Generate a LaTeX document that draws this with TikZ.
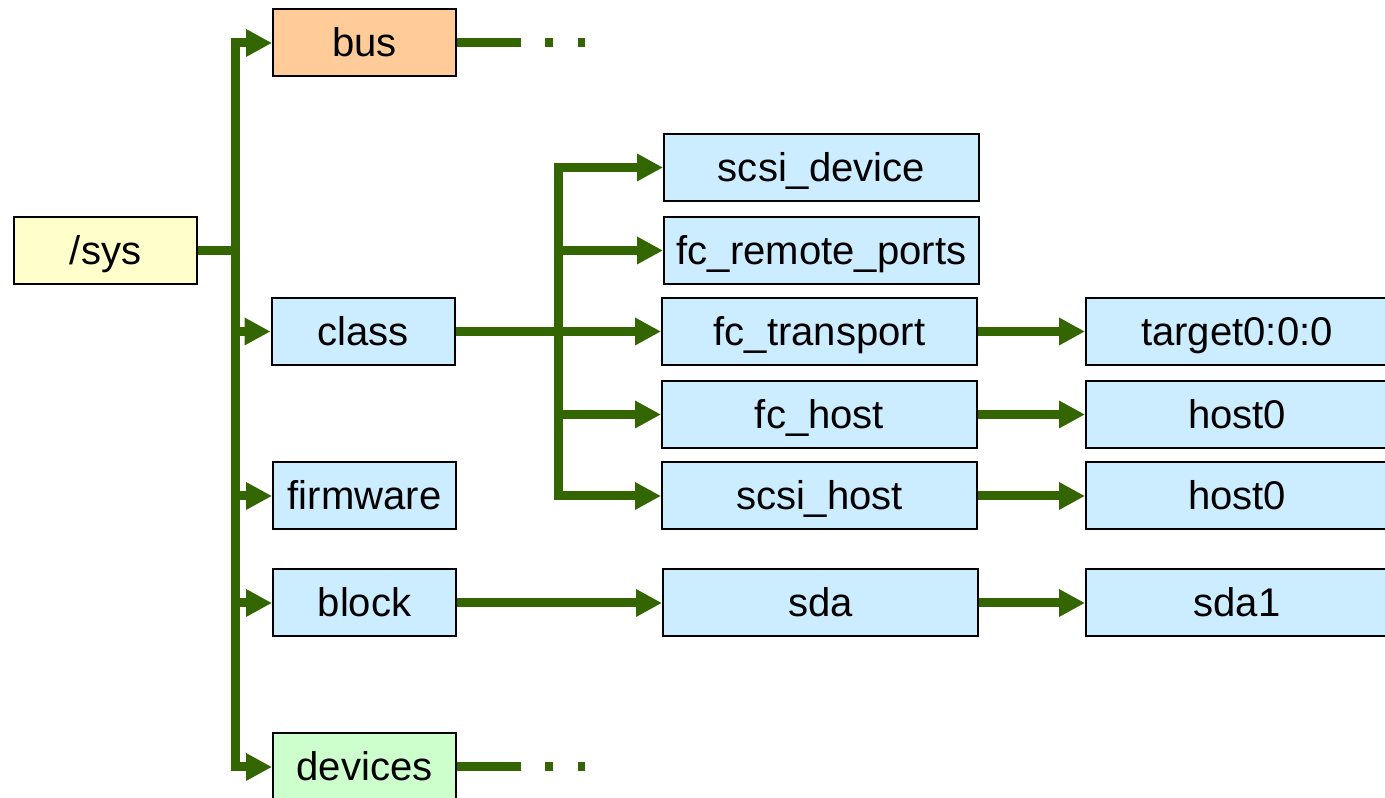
\documentclass[tikz,border=0pt]{standalone}
\usepackage{fontspec}
\setmainfont{Liberation Sans}
\usetikzlibrary{arrows.meta,positioning}
\definecolor{linkgreen}{RGB}{51,102,0}
\definecolor{rootfill}{RGB}{255,255,204}
\definecolor{busfill}{RGB}{255,204,153}
\definecolor{dirfill}{RGB}{204,236,255}
\definecolor{devfill}{RGB}{204,255,204}

\begin{document}
\begin{tikzpicture}[
    dir/.style={draw=black,line width=0.02cm,fill=dirfill,inner sep=0pt,
        minimum height=0.67cm,text height=0.36cm,text depth=0.08cm,
        font=\fontsize{11.4}{13}\selectfont},
    top/.style={dir,minimum width=1.83cm},
    mid/.style={dir,minimum width=3.15cm},
    far/.style={dir,minimum width=3.02cm},
    link/.style={draw=linkgreen,line width=0.09cm},
    arrow/.style={link,-{Triangle[length=0.26cm,width=0.26cm]}},
    more/.style={link,dash pattern=on 0.64cm off 0.24cm on 0.08cm off 0.25cm}]
                \useasboundingbox (0,0) rectangle (13.85,-7.98);
                % first level
                \node[top,fill=rootfill] (sys)      at (1.055,-2.505) {/sys};
                \node[top,fill=busfill]  (bus)      at (3.645,-0.43)  {bus};
                \node[top]               (class)    at (3.63,-3.315)  {class};
                \node[top]               (firmware) at (3.645,-4.96)  {firmware};
                \node[top]               (block)    at (3.645,-6.03)  {block};
                \node[top,fill=devfill]  (devices)  at (3.645,-7.67)  {devices};
                % second level
                \node[mid] (scsidev)  at (8.215,-1.675) {scsi\_device};
                \node[mid] (fcremote) at (8.215,-2.505) {fc\_remote\_ports};
                \node[mid] (fctrans)  at (8.195,-3.315) {fc\_transport};
                \node[mid] (fchost)   at (8.195,-4.145) {fc\_host};
                \node[mid] (scsihost) at (8.195,-4.96)  {scsi\_host};
                \node[mid] (sda)      at (8.205,-6.03)  {sda};
                % third level
                \node[far] (target)    at (12.37,-3.315) {target0:0:0};
                \node[far] (fchost0)   at (12.37,-4.145) {host0};
                \node[far] (scsihost0) at (12.37,-4.96)  {host0};
                \node[far] (sdaone)    at (12.37,-6.03)  {sda1};
                % forks and open ends
                \coordinate (sysfork)   at (2.35,-2.505);
                \coordinate (classfork) at (5.58,-3.315);
                \coordinate (busmore)   at (5.85,-0.43);
                \coordinate (devmore)   at (5.85,-7.67);
                \draw[link] (sys.east) -- (sysfork);
                \draw[link] (class.east) -- (classfork);
                \draw[arrow] (sysfork) |- (bus.west);
                \draw[arrow] (sysfork) |- (class.west);
                \draw[arrow] (sysfork) |- (firmware.west);
                \draw[arrow] (sysfork) |- (block.west);
                \draw[arrow] (sysfork) |- (devices.west);
                \draw[arrow] (classfork) |- (scsidev.west);
                \draw[arrow] (classfork) |- (fcremote.west);
                \draw[arrow] (classfork) -- (fctrans.west);
                \draw[arrow] (classfork) |- (fchost.west);
                \draw[arrow] (classfork) |- (scsihost.west);
                \draw[arrow] (block) -- (sda);
                \draw[arrow] (fctrans) -- (target);
                \draw[arrow] (fchost) -- (fchost0);
                \draw[arrow] (scsihost) -- (scsihost0);
                \draw[arrow] (sda) -- (sdaone);
                \draw[more] (bus.east) -- (busmore);
                \draw[more] (devices.east) -- (devmore);
            \end{tikzpicture}
\end{document}
